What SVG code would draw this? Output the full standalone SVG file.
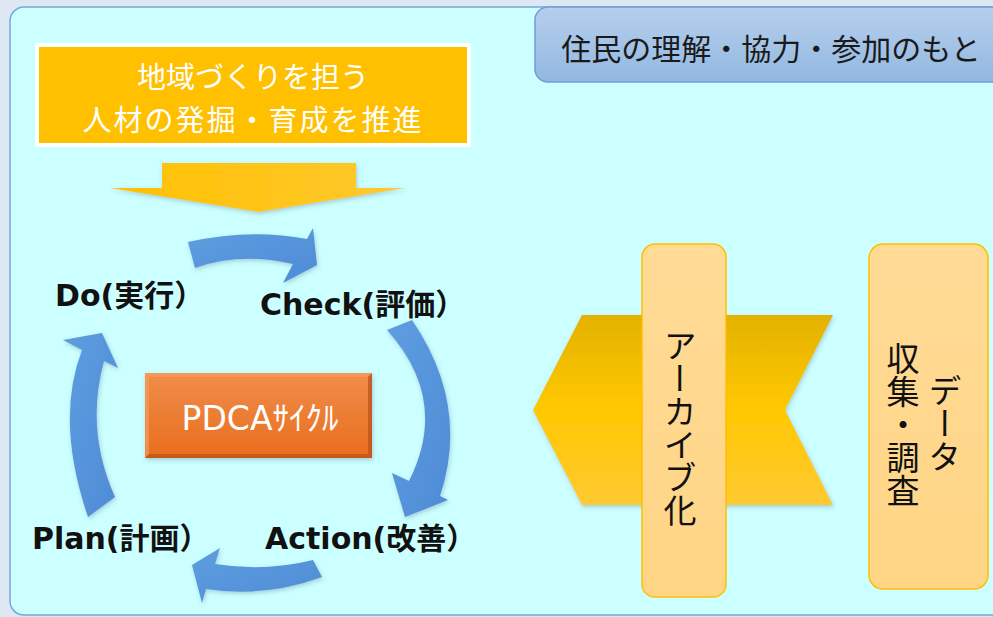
<svg xmlns="http://www.w3.org/2000/svg" width="993" height="617" viewBox="0 0 993 617">
<defs>
<style>
.jp{font-family:"Noto Sans CJK JP","Noto Sans",sans-serif;}
.lbl{font-family:"DejaVu Sans","Noto Sans CJK JP",sans-serif;font-weight:bold;font-size:30px;fill:#111;}
.blue{fill:url(#gBlue);filter:url(#sh);}
.vbox{fill:url(#gVbox);stroke:#ffc000;stroke-width:1.5;}
.vt{font-family:"Noto Sans CJK JP",sans-serif;font-size:33px;fill:#111;writing-mode:vertical-rl;text-anchor:middle;}
</style>
<linearGradient id="gBlue" x1="0" y1="0" x2="1" y2="1">
<stop offset="0" stop-color="#5e9ee0"/><stop offset="1" stop-color="#4e8bd6"/>
</linearGradient>
<linearGradient id="gChev" x1="0" y1="0" x2="0" y2="1">
<stop offset="0" stop-color="#e3b200"/><stop offset="0.5" stop-color="#ffc800"/><stop offset="1" stop-color="#ffc933"/>
</linearGradient>
<linearGradient id="gDown" x1="0" y1="0" x2="1" y2="0">
<stop offset="0" stop-color="#ffc000"/><stop offset="1" stop-color="#ffc930"/>
</linearGradient>
<linearGradient id="gTop" x1="0" y1="0" x2="0" y2="1">
<stop offset="0" stop-color="#b5cfec"/><stop offset="1" stop-color="#93b8e1"/>
</linearGradient>
<linearGradient id="gVbox" x1="0" y1="0" x2="0" y2="1">
<stop offset="0" stop-color="#ffdb96"/><stop offset="1" stop-color="#ffd585"/>
</linearGradient>
<linearGradient id="gOrange" x1="0" y1="0" x2="0" y2="1">
<stop offset="0" stop-color="#f08c4c"/><stop offset="1" stop-color="#e96e1c"/>
</linearGradient>
<filter id="sh" x="-20%" y="-20%" width="140%" height="140%">
<feDropShadow dx="1" dy="2" stdDeviation="2" flood-color="#406080" flood-opacity="0.3"/>
</filter>
</defs>

<rect x="0" y="0" width="993" height="617" fill="#dde8f4"/>
<rect id="panel" x="10" y="7" width="1000" height="608" rx="14" fill="#ccffff" stroke="#79a7da" stroke-width="1.5"/>

<g id="top-right">
<rect x="535" y="7" width="480" height="75" rx="13" fill="url(#gTop)" stroke="#6f9ed6" stroke-width="1.5"/>
<text class="jp" x="771" y="60" font-size="30" text-anchor="middle" fill="#1a1a1a">住民の理解・協力・参加のもと</text>
</g>

<g id="top-left">
<rect x="37" y="45" width="432" height="100" fill="#ffc000" stroke="#ffffff" stroke-width="4"/>
<text class="jp" x="253" y="88" font-size="29" text-anchor="middle" fill="#ffffff">地域づくりを担う</text>
<text class="jp" x="253" y="131" font-size="29" letter-spacing="2" text-anchor="middle" fill="#ffffff">人材の発掘・育成を推進</text>
</g>

<g id="connectors">
<polygon points="162,163 356,163 356,188 405,188 259,212 110,188 162,188" fill="url(#gDown)" filter="url(#sh)"/>
<path class="blue" d="M188,242 Q250,228 307,239 L313,228 L317,265 L283,283 L293,264 Q240,252 195,268 Z"/>
<path class="blue" d="M387,330 L412,320 Q470,405 440,496 L448,500 L405,517 L392,473 L409,481 Q450,400 387,330 Z"/>
<path class="blue" d="M313,560 L322,577 Q265,598 206,589 L202,603 L192,565 L220,548 L215,564 Q265,572 313,560 Z"/>
<path class="blue" d="M88,517 Q55,420 82,350 L63,340 L102,333 L118,368 L104,361 Q85,430 115,497 Z"/>
<polygon points="582,315 833,315 785,410 833,505 582,505 533,410" fill="url(#gChev)" filter="url(#sh)"/>
</g>

<g id="pdca">
<rect x="145" y="373" width="227" height="85" fill="url(#gOrange)" filter="url(#sh)"/>
<path d="M145,373 H372 L368,377 H149 V454 L145,458 Z" fill="#f6a060" opacity="0.6"/>
<path d="M372,373 V458 H145 L149,454 H368 V377 Z" fill="#b8501a" opacity="0.7"/>
<text x="260" y="430" font-size="33" text-anchor="middle" fill="#ffffff" font-family="DejaVu Sans,Noto Sans CJK JP,sans-serif">PDCAｻｲｸﾙ</text>
</g>

<g id="do"><text class="lbl" x="55" y="306">Do(実行）</text></g>
<g id="check"><text class="lbl" x="260" y="315">Check(評価）</text></g>
<g id="plan"><text class="lbl" x="32" y="549">Plan(計画）</text></g>
<g id="action"><text class="lbl" x="265" y="549">Action(改善）</text></g>

<g id="archive">
<rect class="vbox" x="642" y="244" width="84" height="353" rx="13"/>
<text class="vt" x="680" y="428">アーカイブ化</text>
</g>

<g id="data">
<rect class="vbox" x="869" y="244" width="119" height="345" rx="14"/>
<text class="vt" x="945" y="423">データ</text>
<text class="vt" x="903" y="424">収集・調査</text>
</g>
</svg>
